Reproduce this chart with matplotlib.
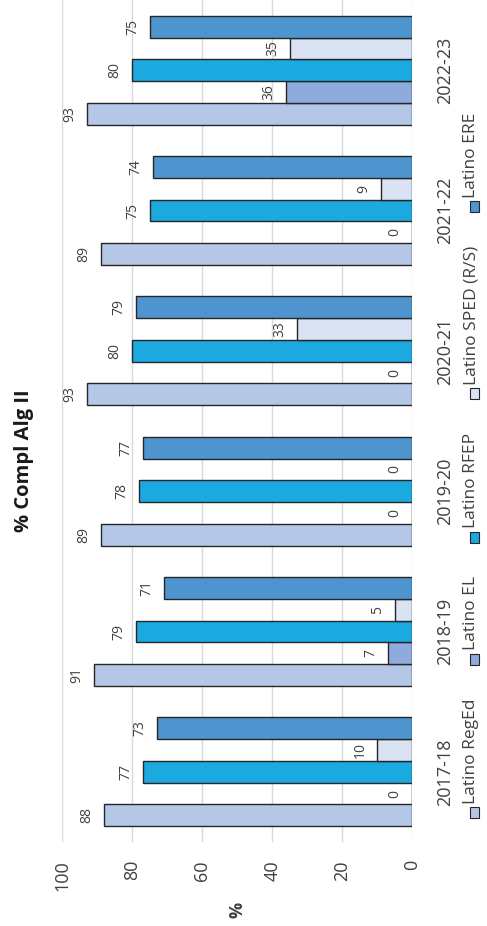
import numpy as np
import matplotlib
matplotlib.use("Agg")
import matplotlib.pyplot as plt
from matplotlib.patches import Rectangle

plt.rcParams['font.family'] = ['Open Sans', 'DejaVu Sans']

# data
categories = ['2017-18', '2018-19', '2019-20', '2020-21', '2021-22', '2022-23']
series_names = ['Latino RegEd', 'Latino EL', 'Latino RFEP',
                'Latino SPED (R/S)', 'Latino ERE']
reged = [88, 91, 89, 93, 89, 93]
el = [0, 7, 0, 0, 0, 36]
rfep = [77, 79, 78, 80, 75, 80]
sped = [10, 5, 0, 33, 9, 35]
ere = [73, 71, 77, 79, 74, 75]
value_ticks = [0, 20, 40, 60, 80, 100]

colors = ['#B4C7E7', '#8FAADC', '#1CA9E0', '#DAE3F3', '#4E94CF']
edge = '#262626'
text_col = '#404040'

W, H = 487, 926
fig = plt.figure(figsize=(W / 100, H / 100), dpi=100)
ax = fig.add_axes([62.3 / W, 84 / H, 350 / W, 842 / H])

series = [reged, el, rfep, sped, ere]
bw = 0.155
y = np.arange(len(categories))
for j, vals in enumerate(series):
    pos = y + (j - 2) * bw
    bars = ax.barh(pos, vals, height=bw, color=colors[j], edgecolor=edge,
                   linewidth=1.0, zorder=3)
    for rect, v in zip(bars, vals):
        ax.annotate(str(v), (v, rect.get_y() + rect.get_height() / 2),
                    xytext=(-12.5, 0), textcoords='offset points',
                    rotation=90, ha='center', va='center', fontsize=10,
                    color=text_col)

ax.set_xlim(100, 0)
ax.set_ylim(-0.5, len(categories) - 0.5)
ax.set_xticks(value_ticks)
ax.set_xticklabels([str(t) for t in value_ticks], rotation=90,
                   ha='center', va='top', fontsize=13, color=text_col)
ax.yaxis.tick_right()
ax.set_yticks(y)
ax.set_yticklabels(categories, rotation=90, va='center', ha='left',
                   fontsize=13, color=text_col)
ax.tick_params(axis='both', length=0)
ax.tick_params(axis='x', pad=13)
ax.tick_params(axis='y', pad=17)
ax.grid(axis='x', color='#D9D9D9', linewidth=1.0, zorder=0)
ax.set_axisbelow(True)
for s in ax.spines.values():
    s.set_visible(False)

ax.set_xlabel('%', rotation=90, fontsize=13, fontweight='bold',
              color=text_col, labelpad=8)

fig.text(24 / W, 1 - 461 / H, '% Compl Alg II', rotation=90, ha='center',
         va='center', fontsize=14.5, fontweight='bold', color='#1a1a1a')

# legend drawn rotated, stacked bottom to top
renderer = fig.canvas.get_renderer()
ypix = H - 818
for name, c in zip(series_names, colors):
    fig.patches.append(Rectangle((470 / W, ypix / H), 9 / W, 11 / H,
                                 transform=fig.transFigure, facecolor=c,
                                 edgecolor=edge, linewidth=0.8))
    t = fig.text(463 / W, (ypix + 14) / H, name, rotation=90, ha='left',
                 va='bottom', fontsize=12.5, color=text_col)
    bb = t.get_window_extent(renderer)
    ypix = bb.y1 + 34

fig.savefig('out.png', dpi=100)
